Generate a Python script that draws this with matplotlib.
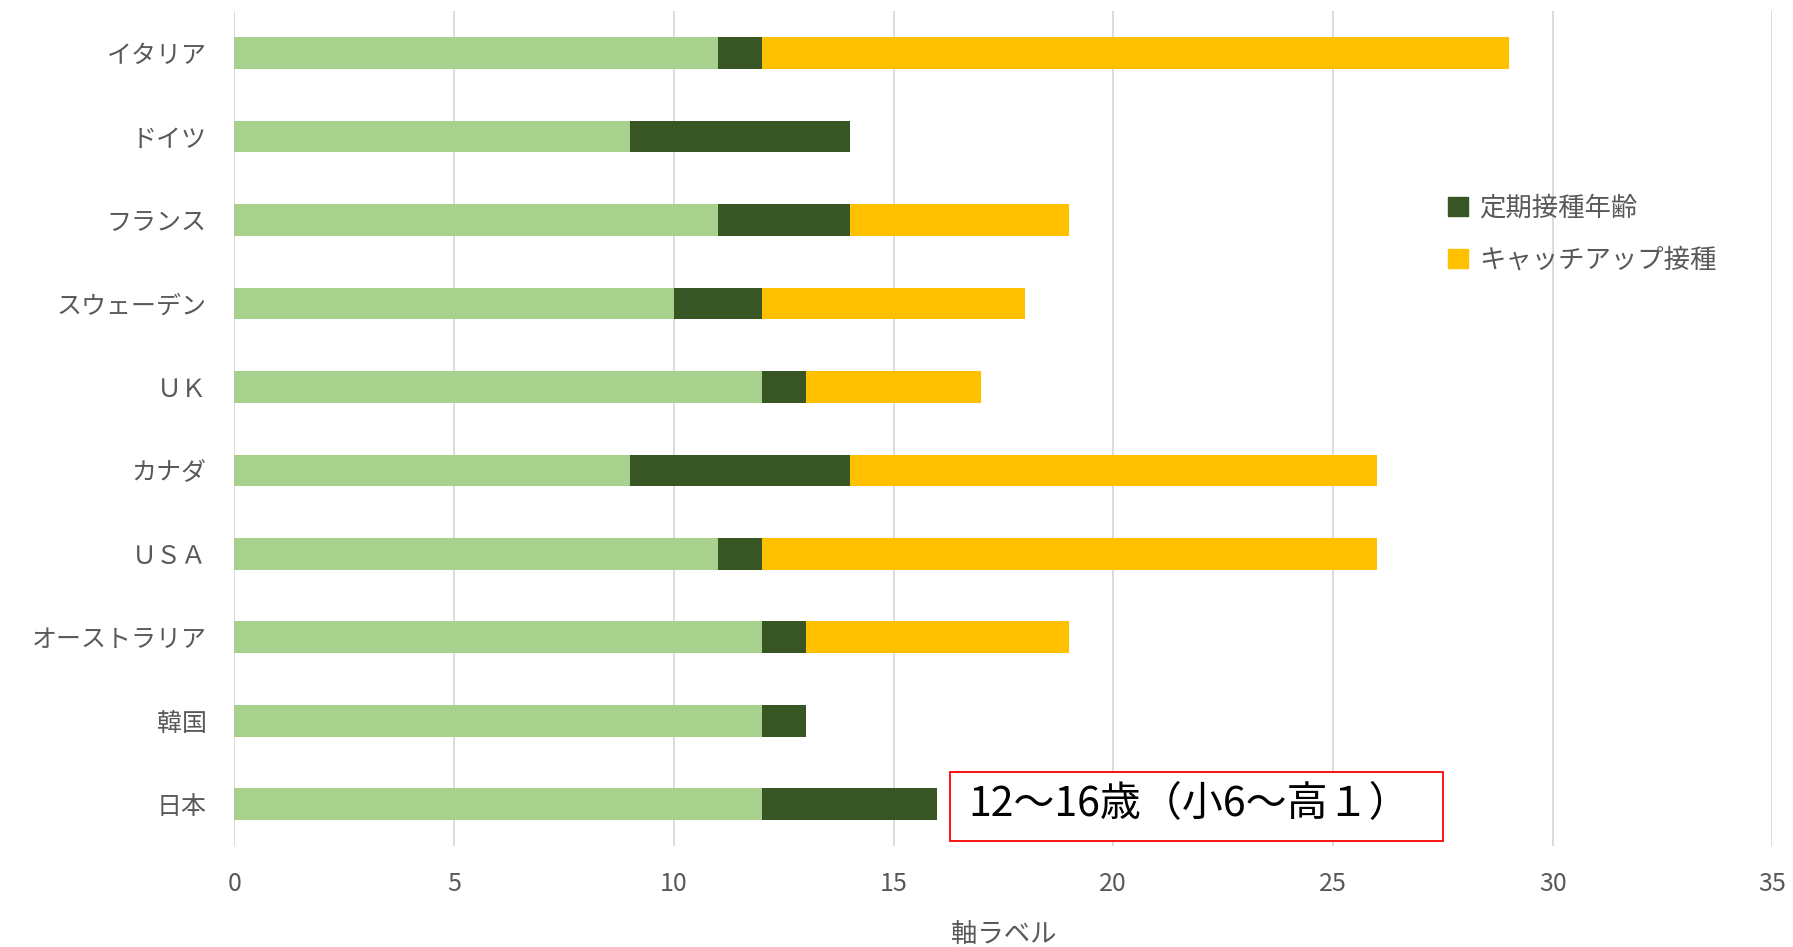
import matplotlib
matplotlib.use("Agg")
import matplotlib.pyplot as plt
from matplotlib.patches import Patch, Rectangle

plt.rcParams['font.family'] = ['Noto Sans CJK JP', 'DejaVu Sans']

# countries, top to bottom
countries = ["イタリア", "ドイツ", "フランス", "スウェーデン", "ＵＫ",
             "カナダ", "ＵＳＡ", "オーストラリア", "韓国", "日本"]
# start age of routine vaccination (light green part is 0..start)
start_age = [11, 9, 11, 10, 12, 9, 11, 12, 12, 12]
# routine vaccination span (years)
routine = [1, 5, 3, 2, 1, 5, 1, 1, 1, 4]
# catch-up span (years)
catchup = [17, 0, 5, 6, 4, 12, 14, 6, 0, 0]

legend_names = ["定期接種年齢", "キャッチアップ接種"]
note = "12～16歳（小6～高１）"

c_base = "#A9D18E"
c_routine = "#375623"
c_catch = "#FFC000"
txt = "#595959"

fig = plt.figure(figsize=(17.93, 9.47), dpi=100)
ax = fig.add_axes([0.1307, 0.1067, 0.8578, 0.8813])

y = list(range(len(countries)))
h = 0.38
left2 = [a + b for a, b in zip(start_age, routine)]
ax.barh(y, start_age, height=h, color=c_base, zorder=3)
ax.barh(y, routine, left=start_age, height=h, color=c_routine, zorder=3)
ax.barh(y, catchup, left=left2, height=h, color=c_catch, zorder=3)

ax.set_ylim(len(countries) - 0.5, -0.5)
ax.set_xlim(0, 35)
ax.set_xticks(range(0, 36, 5))
ax.set_yticks(y)
ax.set_yticklabels(countries)
ax.grid(axis='x', color="#D9D9D9", linewidth=1.3, zorder=0)
for s in ax.spines.values():
    s.set_visible(False)
ax.tick_params(length=0, labelsize=18, colors=txt)
ax.tick_params(axis='y', pad=20)
ax.tick_params(axis='x', pad=18)
ax.set_xlabel("軸ラベル", fontsize=19, color=txt, labelpad=17)

handles = [Patch(color=c_routine), Patch(color=c_catch)]
fig.legend(handles, legend_names, loc='upper left',
           bbox_to_anchor=(1424 / 1793, 1 - 171 / 947), frameon=False,
           fontsize=19, labelcolor=txt, handlelength=0.75, handleheight=0.75,
           handletextpad=0.45, labelspacing=0.95)

# annotation box next to Japan's bar
ax.add_patch(Rectangle((16.29, 8.616), 27.5 - 16.29, 0.822, fc='white',
                       ec='#FF0000', lw=1.3, zorder=5))
ax.text(16.7, 9.0, note, fontsize=29.5, color="black", va='center', ha='left',
        zorder=6)

fig.savefig("out.png", dpi=100)
